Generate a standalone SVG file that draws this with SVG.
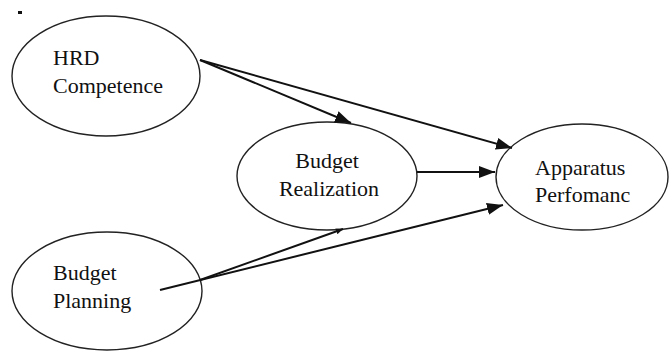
<svg xmlns="http://www.w3.org/2000/svg" width="669" height="351" viewBox="0 0 669 351">
<style>
.node ellipse{fill:#fff;stroke:#222;stroke-width:1.4}
.node text{font-family:"Liberation Serif","Times New Roman",serif;font-size:22px;fill:#111}
.edges line{stroke:#111;stroke-width:2}
</style>
<defs>
<marker id="ah" markerUnits="userSpaceOnUse" markerWidth="18" markerHeight="14" viewBox="0 0 18 14" refX="16" refY="7" orient="auto">
<path d="M0,1 L16,7 L0,13 Z" fill="#111"/>
</marker>
<marker id="ahs" markerUnits="userSpaceOnUse" markerWidth="8" markerHeight="8" viewBox="0 0 8 8" refX="7" refY="4" orient="auto">
<path d="M0,1 L7,4 L0,7 Z" fill="#111"/>
</marker>
</defs>
<rect width="669" height="351" fill="#fff"/>
<rect x="18" y="11" width="4" height="3" fill="#111"/>
<g id="hrd" class="node">
<ellipse cx="106" cy="76" rx="94" ry="60"/>
<text x="53" y="65">HRD</text>
<text x="53" y="93">Competence</text>
</g>
<g id="realization" class="node">
<ellipse cx="327" cy="176" rx="90" ry="54"/>
<text x="327" y="168" text-anchor="middle">Budget</text>
<text x="329" y="196" text-anchor="middle">Realization</text>
</g>
<g id="apparatus" class="node">
<ellipse cx="582" cy="177" rx="86" ry="53"/>
<text x="535" y="175">Apparatus</text>
<text x="535" y="202">Perfomanc</text>
</g>
<g id="planning" class="node">
<ellipse cx="107" cy="291" rx="95" ry="59"/>
<text x="53" y="280">Budget</text>
<text x="53" y="308">Planning</text>
</g>
<g id="edges" class="edges">
<line x1="200" y1="60" x2="351" y2="123" marker-end="url(#ah)"/>
<line x1="200" y1="60" x2="512" y2="148" marker-end="url(#ah)"/>
<line x1="417" y1="172" x2="495" y2="172" marker-end="url(#ah)"/>
<line x1="160" y1="290" x2="503" y2="205" marker-end="url(#ah)"/>
<line x1="200" y1="280" x2="343" y2="229" marker-end="url(#ahs)"/>
</g>
</svg>
